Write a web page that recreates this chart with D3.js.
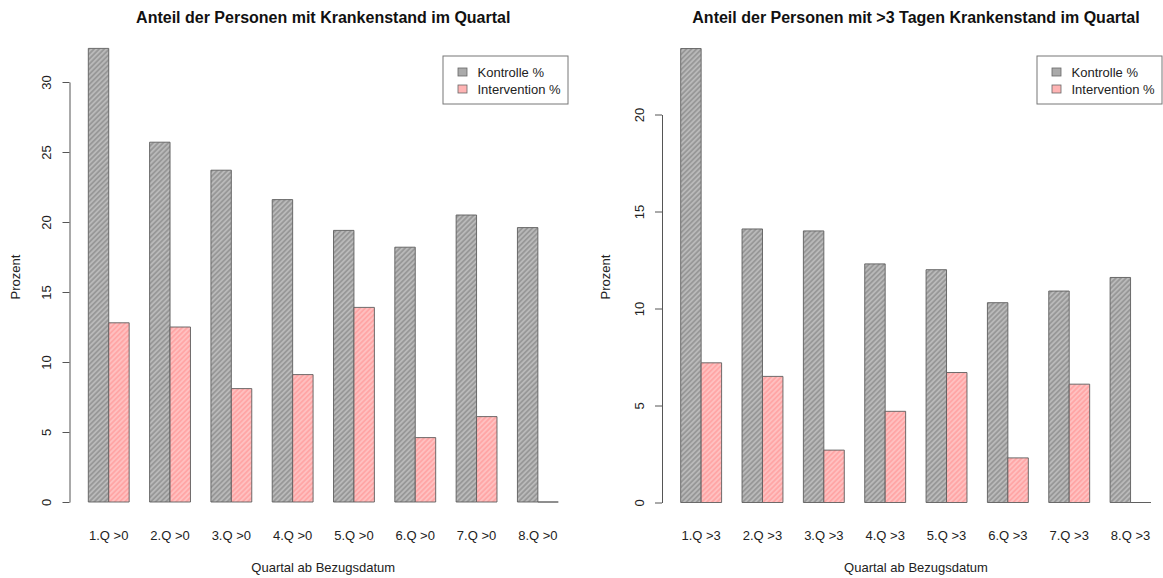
<!DOCTYPE html>
<html>
<head>
<meta charset="utf-8">
<script src="https://cdn.jsdelivr.net/npm/d3@7"></script>
<style>
  html, body { margin: 0; padding: 0; background: #fff; }
  svg { display: block; font-family: "Liberation Sans", Arial, sans-serif; }
</style>
</head>
<body>
<svg id="chart" width="1163" height="578"></svg>
<script>
// Quarter labels for the two panels
const categoriesAny = ["1.Q >0", "2.Q >0", "3.Q >0", "4.Q >0", "5.Q >0", "6.Q >0", "7.Q >0", "8.Q >0"];
const categoriesLong = ["1.Q >3", "2.Q >3", "3.Q >3", "4.Q >3", "5.Q >3", "6.Q >3", "7.Q >3", "8.Q >3"];

// Share of persons (%) with any sick leave in the quarter
const kontrolleAny = [32.4, 25.7, 23.7, 21.6, 19.4, 18.2, 20.5, 19.6];
const interventionAny = [12.8, 12.5, 8.1, 9.1, 13.9, 4.6, 6.1, 0];

// Share of persons (%) with more than 3 days of sick leave in the quarter
const kontrolleLong = [23.4, 14.1, 14.0, 12.3, 12.0, 10.3, 10.9, 11.6];
const interventionLong = [7.2, 6.5, 2.7, 4.7, 6.7, 2.3, 6.1, 0];

const seriesNames = ["Kontrolle %", "Intervention %"];
const ticksAny = [0, 5, 10, 15, 20, 25, 30];
const ticksLong = [0, 5, 10, 15, 20];

const titles = [
  "Anteil der Personen mit Krankenstand im Quartal",
  "Anteil der Personen mit >3 Tagen Krankenstand im Quartal"
];
const xTitle = "Quartal ab Bezugsdatum";
const yTitle = "Prozent";

const svg = d3.select("#chart");
const defs = svg.append("defs");

// Hatched fills: solid base colour with lighter diagonal stripes
function hatch(id, base, stripe) {
  const p = defs.append("pattern")
    .attr("id", id)
    .attr("patternUnits", "userSpaceOnUse")
    .attr("width", 3.6).attr("height", 10)
    .attr("patternTransform", "rotate(45)");
  p.append("rect").attr("width", 3.6).attr("height", 10).attr("fill", base);
  p.append("line").attr("x1", 0.9).attr("x2", 0.9).attr("y1", 0).attr("y2", 10)
    .attr("stroke", stripe).attr("stroke-width", 1.2);
}
hatch("hatchGrey", "#989898", "#cacaca");
hatch("hatchPink", "#ffa6a6", "#ffcece");
const fills = ["url(#hatchGrey)", "url(#hatchPink)"];
const legendFills = ["#aaaaaa", "#ffb4b4"];

const panels = [
  {
    cats: categoriesAny, series: [kontrolleAny, interventionAny], ticks: ticksAny,
    title: titles[0], yMax: 30,
    axisX: 69.5, bandStart: 88.3, bandEnd: 558.3, plotRight: 577,
    y0: 502, yTop: 82, yLabelX: 15,
    legend: { x: 443, y: 56, w: 125, h: 48 }
  },
  {
    cats: categoriesLong, series: [kontrolleLong, interventionLong], ticks: ticksLong,
    title: titles[1], yMax: 20,
    axisX: 662, bandStart: 680.7, bandEnd: 1151, plotRight: 1170,
    y0: 502.5, yTop: 114.5, yLabelX: 605,
    legend: { x: 1037, y: 56, w: 125, h: 48 }
  }
];

panels.forEach(p => {
  const g = svg.append("g");

  // Groups: two bars per quarter with one bar-width gap between groups
  const x = d3.scaleBand().domain(p.cats).range([p.bandStart, p.bandEnd])
    .paddingInner(1 / 3).paddingOuter(0);
  const xs = d3.scaleBand().domain(d3.range(p.series.length)).range([0, x.bandwidth()]);
  const y = d3.scaleLinear().domain([0, p.yMax]).range([p.y0, p.yTop]);

  const rows = p.cats.map((c, i) => ({ cat: c, vals: p.series.map(s => s[i]) }));

  const grp = g.selectAll("g.grp").data(rows).join("g")
    .attr("class", "grp")
    .attr("transform", d => `translate(${x(d.cat)},0)`);

  // Bars as paths so that zero values still show their outline
  grp.selectAll("path").data(d => d.vals.map((v, k) => ({ v, k }))).join("path")
    .attr("d", d => {
      const x0 = xs(d.k), w = xs.bandwidth();
      const yb = y(0), yt = y(d.v);
      return `M${x0},${yb}V${yt}H${x0 + w}V${yb}Z`;
    })
    .attr("fill", d => fills[d.k])
    .attr("stroke", "#5e5e5e")
    .attr("stroke-width", 0.9);

  // Y axis with rotated tick labels
  const ax = g.append("g")
    .attr("transform", `translate(${p.axisX},0)`)
    .call(d3.axisLeft(y).tickValues(p.ticks).tickSize(7).tickSizeOuter(0).tickFormat(d3.format("d")));
  ax.select(".domain").attr("stroke", "#555");
  ax.selectAll(".tick line").attr("stroke", "#555");
  ax.selectAll(".tick text")
    .attr("x", null).attr("dy", "0.35em")
    .attr("transform", "translate(-23,0) rotate(-90)")
    .attr("text-anchor", "middle")
    .attr("fill", "#222")
    .style("font-size", "13px");
  ax.attr("font-family", null).attr("font-size", null);

  // Category labels below the bars
  g.selectAll("text.cat").data(p.cats).join("text")
    .attr("class", "cat")
    .attr("x", d => x(d) + x.bandwidth() / 2)
    .attr("y", 539.5)
    .attr("text-anchor", "middle")
    .attr("fill", "#222")
    .style("font-size", "13px")
    .text(d => d);

  const cx = (p.axisX + p.plotRight) / 2;

  // Titles
  g.append("text")
    .attr("x", cx).attr("y", 22.5)
    .attr("text-anchor", "middle")
    .attr("fill", "#111")
    .style("font-size", "16px").style("font-weight", "bold")
    .text(p.title);

  g.append("text")
    .attr("x", cx).attr("y", 571.5)
    .attr("text-anchor", "middle")
    .attr("fill", "#222")
    .style("font-size", "13px")
    .text(xTitle);

  g.append("text")
    .attr("transform", `translate(${p.yLabelX},277) rotate(-90)`)
    .attr("dy", "0.35em")
    .attr("text-anchor", "middle")
    .attr("fill", "#222")
    .style("font-size", "13px")
    .text(yTitle);

  // Legend
  const L = p.legend;
  const lg = g.append("g").attr("transform", `translate(${L.x},${L.y})`);
  lg.append("rect").attr("width", L.w).attr("height", L.h)
    .attr("fill", "#fff").attr("stroke", "#777").attr("stroke-width", 1);
  const items = lg.selectAll("g.item").data(seriesNames).join("g")
    .attr("class", "item")
    .attr("transform", (d, i) => `translate(0,${16 + i * 17})`);
  items.append("rect")
    .attr("x", 15).attr("y", -4).attr("width", 9).attr("height", 8)
    .attr("fill", (d, i) => legendFills[i])
    .attr("stroke", "#666").attr("stroke-width", 0.8);
  items.append("text")
    .attr("x", 34.5).attr("dy", "0.35em")
    .attr("fill", "#222")
    .style("font-size", "13px")
    .text(d => d);
});
</script>
</body>
</html>
